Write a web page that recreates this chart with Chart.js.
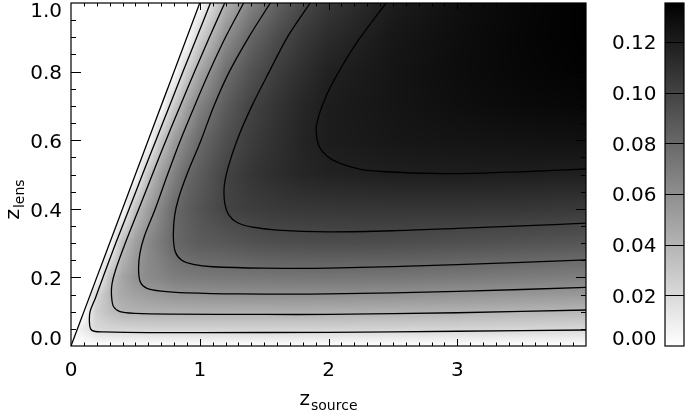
<!DOCTYPE html>
<html>
<head>
<meta charset="utf-8">
<script src="https://cdn.jsdelivr.net/npm/chart.js@4.4.0/dist/chart.umd.min.js"></script>
<style>
  html, body { margin: 0; padding: 0; background: #fff; }
</style>
</head>
<body>
<canvas id="chart" width="686" height="411"></canvas>
<script>
// grid nodes of the shaded field
const zSource = [0, 0.1, 0.2, 0.3, 0.4, 0.5, 0.6, 0.7, 0.8, 0.9, 1.0, 1.2, 1.4, 1.6, 1.8, 2.0, 2.5, 3.0, 3.5, 4.0];
const zLens = [0, 0.05, 0.1, 0.15, 0.2, 0.3, 0.4, 0.5, 0.6, 0.7, 0.8, 0.9, 1.0];

// field values, one row per z_lens (null = no lensing, z_lens > z_source)
const eff000 = [0, 0, 0, 0, 0, 0, 0, 0, 0, 0, 0, 0, 0, 0, 0, 0, 0, 0, 0, 0];
const eff005 = [null, 0.011, 0.0205, 0.0225, 0.023, 0.0235, 0.0238, 0.024, 0.024, 0.024, 0.024, 0.024, 0.024, 0.024, 0.024, 0.0238, 0.0233, 0.0228, 0.022, 0.0212];
const eff010 = [null, 0, 0.026, 0.034, 0.040, 0.0412, 0.0418, 0.0422, 0.0425, 0.0427, 0.0428, 0.043, 0.043, 0.043, 0.043, 0.0428, 0.042, 0.041, 0.0398, 0.0383];
const eff015 = [null, null, 0.021, 0.038, 0.046, 0.050, 0.053, 0.055, 0.0565, 0.0575, 0.058, 0.0588, 0.0592, 0.0595, 0.0597, 0.0595, 0.0588, 0.0572, 0.0558, 0.0545];
const eff020 = [null, null, 0, 0.033, 0.048, 0.0575, 0.062, 0.065, 0.069, 0.070, 0.071, 0.072, 0.0725, 0.073, 0.0732, 0.0733, 0.073, 0.0715, 0.0698, 0.068];
const eff030 = [null, null, null, 0, 0.0347, 0.051, 0.063, 0.0715, 0.080, 0.084, 0.087, 0.089, 0.092, 0.094, 0.0945, 0.095, 0.0945, 0.093, 0.0915, 0.090];
const eff040 = [null, null, null, null, 0, 0.0333, 0.0515, 0.0655, 0.079, 0.086, 0.091, 0.0996, 0.103, 0.105, 0.106, 0.1065, 0.107, 0.107, 0.1065, 0.105];
const eff050 = [null, null, null, null, null, 0, 0.032, 0.0522, 0.0671, 0.080, 0.0865, 0.0995, 0.107, 0.112, 0.1155, 0.1175, 0.1195, 0.1198, 0.1195, 0.1188];
const eff060 = [null, null, null, null, null, null, 0, 0.0307, 0.0524, 0.067, 0.0795, 0.0936, 0.1035, 0.110, 0.1165, 0.1205, 0.1235, 0.125, 0.126, 0.1268];
const eff070 = [null, null, null, null, null, null, null, 0, 0.029, 0.0505, 0.0667, 0.0867, 0.100, 0.108, 0.115, 0.1205, 0.1245, 0.128, 0.1303, 0.1318];
const eff080 = [null, null, null, null, null, null, null, null, 0, 0.0267, 0.0473, 0.077, 0.092, 0.103, 0.111, 0.118, 0.1245, 0.129, 0.132, 0.1344];
const eff090 = [null, null, null, null, null, null, null, null, null, 0, 0.0247, 0.060, 0.082, 0.095, 0.105, 0.1125, 0.1235, 0.1285, 0.1325, 0.1354];
const eff100 = [null, null, null, null, null, null, null, null, null, null, 0, 0.041, 0.066, 0.084, 0.097, 0.106, 0.1205, 0.1275, 0.132, 0.1355];
const effRows = [eff000, eff005, eff010, eff015, eff020, eff030, eff040, eff050, eff060, eff070, eff080, eff090, eff100];
const effMax = 0.1355;

// contour lines [z_source, z_lens]
const contourLevels = [0.02, 0.04, 0.06, 0.08, 0.10, 0.12];
const boundary = [[0, 0], [1.0, 1.0]];
const contour002 = [[1.083, 1.0], [0.977, 0.9], [0.87, 0.8], [0.765, 0.7], [0.66, 0.6], [0.555, 0.5], [0.452, 0.4], [0.348, 0.3], [0.248, 0.2], [0.19, 0.14], [0.148, 0.1], [0.143, 0.07], [0.152, 0.05], [0.18, 0.043], [0.25, 0.041], [0.6, 0.039], [1.0, 0.039], [2.0, 0.040], [3.0, 0.043], [4.0, 0.0466]];
const contour004 = [[1.194, 1.0], [1.075, 0.9], [0.96, 0.8], [0.848, 0.7], [0.738, 0.6], [0.632, 0.5], [0.527, 0.4], [0.422, 0.3], [0.345, 0.22], [0.318, 0.18], [0.315, 0.145], [0.33, 0.115], [0.38, 0.1], [0.5, 0.095], [0.8, 0.093], [1.5, 0.092], [2.0, 0.092], [3.0, 0.097], [4.0, 0.105]];
const contour006 = [[1.341, 1.0], [1.2, 0.9], [1.075, 0.8], [0.96, 0.7], [0.85, 0.6], [0.75, 0.5], [0.655, 0.4], [0.57, 0.32], [0.535, 0.27], [0.525, 0.22], [0.54, 0.185], [0.59, 0.168], [0.7, 0.16], [0.9, 0.155], [1.3, 0.152], [2.0, 0.152], [3.0, 0.159], [4.0, 0.171]];
const contour008 = [[1.548, 1.0], [1.38, 0.9], [1.23, 0.8], [1.11, 0.7], [1.01, 0.6], [0.9, 0.5], [0.835, 0.43], [0.805, 0.38], [0.795, 0.32], [0.81, 0.275], [0.86, 0.25], [0.95, 0.238], [1.1, 0.231], [1.5, 0.227], [2.0, 0.227], [3.0, 0.237], [4.0, 0.251]];
const contour010 = [[1.858, 1.0], [1.68, 0.9], [1.54, 0.8], [1.405, 0.7], [1.29, 0.6], [1.22, 0.52], [1.19, 0.465], [1.195, 0.415], [1.225, 0.382], [1.29, 0.36], [1.4, 0.347], [1.6, 0.338], [2.0, 0.333], [2.5, 0.336], [3.0, 0.343], [3.5, 0.35], [4.0, 0.358]];
const contour012 = [[2.447, 1.0], [2.215, 0.882], [2.03, 0.766], [1.95, 0.7], [1.91, 0.65], [1.905, 0.62], [1.93, 0.58], [1.99, 0.553], [2.085, 0.533], [2.25, 0.515], [2.447, 0.508], [2.8, 0.503], [3.1, 0.503], [3.5, 0.508], [4.0, 0.516]];

// axes
const xTickValues = [0, 1, 2, 3];
const xTickLabels = ['0', '1', '2', '3'];
const yTickValues = [0, 0.2, 0.4, 0.6, 0.8, 1.0];
const yTickLabels = ['0.0', '0.2', '0.4', '0.6', '0.8', '1.0'];
const cbTickValues = [0, 0.02, 0.04, 0.06, 0.08, 0.10, 0.12];
const cbTickLabels = ['0.00', '0.02', '0.04', '0.06', '0.08', '0.10', '0.12'];
const xMinorStep = 0.1;
const yMinorStep = 0.05;

const FONT = '"DejaVu Sans", sans-serif';

function locate(arr, v) {
  if (v <= arr[0]) return [0, 0];
  const n = arr.length;
  if (v >= arr[n - 1]) return [n - 2, 1];
  let k = 0;
  while (arr[k + 1] < v) k++;
  return [k, (v - arr[k]) / (arr[k + 1] - arr[k])];
}

function shade(v) {
  const g = Math.round(255 * (1 - v / effMax));
  return Math.max(0, Math.min(255, g));
}

function cell(r, c) {
  const v = effRows[r][c];
  return v == null ? 0 : v;
}

const fieldPlugin = {
  id: 'field',
  beforeDatasetsDraw(chart) {
    const { ctx, chartArea: a, scales } = chart;
    const w = Math.round(a.right - a.left);
    const h = Math.round(a.bottom - a.top);
    const off = document.createElement('canvas');
    off.width = w;
    off.height = h;
    const octx = off.getContext('2d');
    const img = octx.createImageData(w, h);
    const cols = [];
    const rows = [];
    for (let i = 0; i < w; i++) cols.push(locate(zSource, scales.x.getValueForPixel(a.left + i + 0.5)));
    for (let j = 0; j < h; j++) rows.push(locate(zLens, scales.y.getValueForPixel(a.top + j + 0.5)));
    for (let j = 0; j < h; j++) {
      const [r, ty] = rows[j];
      for (let i = 0; i < w; i++) {
        const [c, tx] = cols[i];
        const v = (1 - ty) * ((1 - tx) * cell(r, c) + tx * cell(r, c + 1)) +
          ty * ((1 - tx) * cell(r + 1, c) + tx * cell(r + 1, c + 1));
        const g = shade(v);
        const p = (j * w + i) * 4;
        img.data[p] = g;
        img.data[p + 1] = g;
        img.data[p + 2] = g;
        img.data[p + 3] = 255;
      }
    }
    octx.putImageData(img, 0, 0);
    ctx.drawImage(off, a.left, a.top, w, h);
  }
};

const framePlugin = {
  id: 'frame',
  afterDraw(chart) {
    const { ctx, chartArea: a, scales } = chart;
    const x = scales.x, y = scales.y, cb = scales.cb;
    ctx.save();
    ctx.strokeStyle = '#000';
    ctx.lineWidth = 1;

    // ticks pointing inward on all four sides
    ctx.beginPath();
    const nx = Math.round((x.max - x.min) / xMinorStep);
    for (let k = 1; k < nx; k++) {
      const px = Math.round(x.getPixelForValue(x.min + k * xMinorStep)) + 0.5;
      const len = k % 10 === 0 ? 7 : 3.5;
      ctx.moveTo(px, a.bottom);
      ctx.lineTo(px, a.bottom - len);
      ctx.moveTo(px, a.top);
      ctx.lineTo(px, a.top + len);
    }
    const ny = Math.round((y.max - y.min) / yMinorStep);
    for (let k = 1; k < ny; k++) {
      const py = Math.round(y.getPixelForValue(y.min + k * yMinorStep)) + 0.5;
      const len = k % 4 === 0 ? 10 : 5;
      ctx.moveTo(a.left, py);
      ctx.lineTo(a.left + len, py);
      ctx.moveTo(a.right, py);
      ctx.lineTo(a.right - len, py);
    }
    ctx.stroke();

    ctx.lineWidth = 1.2;
    ctx.strokeRect(a.left, a.top, a.right - a.left, a.bottom - a.top);

    // tick labels
    ctx.fillStyle = '#000';
    ctx.font = '20px ' + FONT;
    ctx.textAlign = 'center';
    ctx.textBaseline = 'middle';
    xTickValues.forEach((v, i) => {
      ctx.fillText(xTickLabels[i], x.getPixelForValue(v), a.bottom + 25);
    });
    ctx.textAlign = 'right';
    yTickValues.forEach((v, i) => {
      const py = Math.max(a.top + 9, Math.min(a.bottom - 6, y.getPixelForValue(v) + 2.5));
      ctx.fillText(yTickLabels[i], a.left - 9, py);
    });

    // colour bar
    const bx0 = a.right + 79, bx1 = a.right + 98;
    const yb = cb.getPixelForValue(0), yt = cb.getPixelForValue(effMax);
    const grad = ctx.createLinearGradient(0, yb, 0, yt);
    grad.addColorStop(0, 'rgb(255,255,255)');
    grad.addColorStop(1, 'rgb(0,0,0)');
    ctx.fillStyle = grad;
    ctx.fillRect(bx0, yt, bx1 - bx0, yb - yt);
    ctx.lineWidth = 1;
    ctx.beginPath();
    contourLevels.forEach((v) => {
      const py = Math.round(cb.getPixelForValue(v)) + 0.5;
      ctx.moveTo(bx0, py);
      ctx.lineTo(bx1, py);
    });
    ctx.stroke();
    ctx.lineWidth = 1.2;
    ctx.strokeRect(bx0, yt, bx1 - bx0, yb - yt);
    ctx.fillStyle = '#000';
    cbTickValues.forEach((v, i) => {
      const py = Math.max(a.top + 9, Math.min(a.bottom - 6, cb.getPixelForValue(v) + 2));
      ctx.fillText(cbTickLabels[i], bx0 - 8.5, py);
    });

    // axis titles with subscripts
    ctx.textBaseline = 'alphabetic';
    ctx.textAlign = 'left';
    ctx.font = '20px ' + FONT;
    const zw = ctx.measureText('z').width;
    ctx.font = '14px ' + FONT;
    const sw = ctx.measureText('source').width;
    const lw = ctx.measureText('lens').width;
    const cx = (a.left + a.right) / 2;
    let sx = cx - (zw + sw + 1) / 2;
    ctx.font = '20px ' + FONT;
    ctx.fillText('z', sx, 405);
    ctx.font = '14px ' + FONT;
    ctx.fillText('source', sx + zw + 1, 410);

    ctx.translate(19, (a.top + a.bottom) / 2);
    ctx.rotate(-Math.PI / 2);
    sx = -(zw + lw + 1) / 2 - 25;
    ctx.font = '20px ' + FONT;
    ctx.fillText('z', sx, 0);
    ctx.font = '14px ' + FONT;
    ctx.fillText('lens', sx + zw + 1, 5);
    ctx.restore();
  }
};

function toPoints(list) {
  return list.map(([zs, zl]) => ({ x: zs, y: zl }));
}

const contourSets = [contour002, contour004, contour006, contour008, contour010, contour012].map((list, i) => ({
  label: 'level ' + contourLevels[i].toFixed(2),
  data: toPoints(list),
  showLine: true,
  borderColor: '#000',
  borderWidth: 1.3,
  pointRadius: 0,
  tension: 0.3,
  fill: false,
  xAxisID: 'x',
  yAxisID: 'y'
}));

new Chart(document.getElementById('chart'), {
  type: 'scatter',
  data: {
    datasets: [
      {
        label: 'z_lens = z_source',
        data: toPoints(boundary),
        showLine: true,
        borderColor: '#000',
        borderWidth: 1.3,
        backgroundColor: '#fff',
        pointRadius: 0,
        fill: 'end',
        xAxisID: 'x',
        yAxisID: 'y'
      },
      ...contourSets
    ]
  },
  options: {
    responsive: false,
    animation: false,
    events: [],
    layout: { padding: { left: 71, right: 100, top: 3, bottom: 65 } },
    plugins: {
      legend: { display: false },
      tooltip: { enabled: false }
    },
    scales: {
      x: { type: 'linear', min: 0, max: 4, display: false },
      y: { type: 'linear', min: 0, max: 1, display: false },
      cb: { type: 'linear', axis: 'y', min: 0, max: effMax, display: false }
    }
  },
  plugins: [fieldPlugin, framePlugin]
});
</script>
</body>
</html>
